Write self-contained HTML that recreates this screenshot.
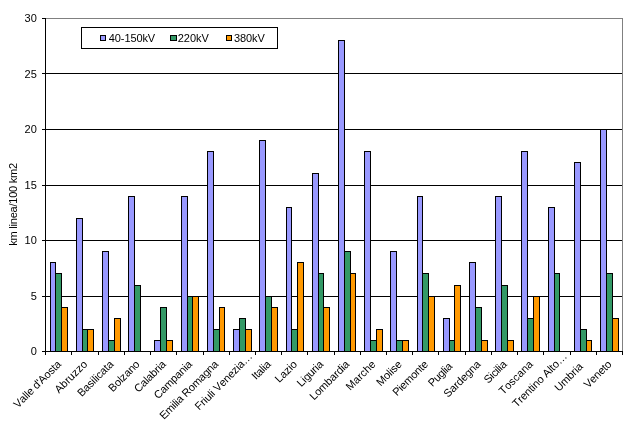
<!DOCTYPE html>
<html><head><meta charset="utf-8"><style>
html,body{margin:0;padding:0;background:#fff;}
body{width:642px;height:425px;position:relative;overflow:hidden;font-family:"Liberation Sans",sans-serif;}
text{font-kerning:none;font-feature-settings:"kern" 0;}
</style></head><body>
<svg width="642" height="425" viewBox="0 0 642 425" style="position:absolute;left:0;top:0;will-change:transform">
<g shape-rendering="crispEdges">
<path d="M45,18.5H622.5M622.5,18V351" stroke="#808080" stroke-width="1" fill="none"/>
<path d="M45,73.5H622" stroke="#000" stroke-width="1"/>
<path d="M45,129.5H622" stroke="#000" stroke-width="1"/>
<path d="M45,185.5H622" stroke="#000" stroke-width="1"/>
<path d="M45,240.5H622" stroke="#000" stroke-width="1"/>
<path d="M45,296.5H622" stroke="#000" stroke-width="1"/>
<rect x="50.5" y="262.5" width="5" height="89" fill="#9999FF" stroke="#000" stroke-width="1"/>
<rect x="55.5" y="273.5" width="6" height="78" fill="#339966" stroke="#000" stroke-width="1"/>
<rect x="61.5" y="307.5" width="6" height="44" fill="#FF9900" stroke="#000" stroke-width="1"/>
<rect x="76.5" y="218.5" width="6" height="133" fill="#9999FF" stroke="#000" stroke-width="1"/>
<rect x="82.5" y="329.5" width="5" height="22" fill="#339966" stroke="#000" stroke-width="1"/>
<rect x="87.5" y="329.5" width="6" height="22" fill="#FF9900" stroke="#000" stroke-width="1"/>
<rect x="102.5" y="251.5" width="6" height="100" fill="#9999FF" stroke="#000" stroke-width="1"/>
<rect x="108.5" y="340.5" width="6" height="11" fill="#339966" stroke="#000" stroke-width="1"/>
<rect x="114.5" y="318.5" width="6" height="33" fill="#FF9900" stroke="#000" stroke-width="1"/>
<rect x="128.5" y="196.5" width="6" height="155" fill="#9999FF" stroke="#000" stroke-width="1"/>
<rect x="134.5" y="285.5" width="6" height="66" fill="#339966" stroke="#000" stroke-width="1"/>
<rect x="154.5" y="340.5" width="6" height="11" fill="#9999FF" stroke="#000" stroke-width="1"/>
<rect x="160.5" y="307.5" width="6" height="44" fill="#339966" stroke="#000" stroke-width="1"/>
<rect x="166.5" y="340.5" width="6" height="11" fill="#FF9900" stroke="#000" stroke-width="1"/>
<rect x="181.5" y="196.5" width="6" height="155" fill="#9999FF" stroke="#000" stroke-width="1"/>
<rect x="187.5" y="296.5" width="5" height="55" fill="#339966" stroke="#000" stroke-width="1"/>
<rect x="192.5" y="296.5" width="6" height="55" fill="#FF9900" stroke="#000" stroke-width="1"/>
<rect x="207.5" y="151.5" width="6" height="200" fill="#9999FF" stroke="#000" stroke-width="1"/>
<rect x="213.5" y="329.5" width="6" height="22" fill="#339966" stroke="#000" stroke-width="1"/>
<rect x="219.5" y="307.5" width="5" height="44" fill="#FF9900" stroke="#000" stroke-width="1"/>
<rect x="233.5" y="329.5" width="6" height="22" fill="#9999FF" stroke="#000" stroke-width="1"/>
<rect x="239.5" y="318.5" width="6" height="33" fill="#339966" stroke="#000" stroke-width="1"/>
<rect x="245.5" y="329.5" width="6" height="22" fill="#FF9900" stroke="#000" stroke-width="1"/>
<rect x="259.5" y="140.5" width="6" height="211" fill="#9999FF" stroke="#000" stroke-width="1"/>
<rect x="265.5" y="296.5" width="6" height="55" fill="#339966" stroke="#000" stroke-width="1"/>
<rect x="271.5" y="307.5" width="6" height="44" fill="#FF9900" stroke="#000" stroke-width="1"/>
<rect x="286.5" y="207.5" width="5" height="144" fill="#9999FF" stroke="#000" stroke-width="1"/>
<rect x="291.5" y="329.5" width="6" height="22" fill="#339966" stroke="#000" stroke-width="1"/>
<rect x="297.5" y="262.5" width="6" height="89" fill="#FF9900" stroke="#000" stroke-width="1"/>
<rect x="312.5" y="173.5" width="6" height="178" fill="#9999FF" stroke="#000" stroke-width="1"/>
<rect x="318.5" y="273.5" width="5" height="78" fill="#339966" stroke="#000" stroke-width="1"/>
<rect x="323.5" y="307.5" width="6" height="44" fill="#FF9900" stroke="#000" stroke-width="1"/>
<rect x="338.5" y="40.5" width="6" height="311" fill="#9999FF" stroke="#000" stroke-width="1"/>
<rect x="344.5" y="251.5" width="6" height="100" fill="#339966" stroke="#000" stroke-width="1"/>
<rect x="350.5" y="273.5" width="5" height="78" fill="#FF9900" stroke="#000" stroke-width="1"/>
<rect x="364.5" y="151.5" width="6" height="200" fill="#9999FF" stroke="#000" stroke-width="1"/>
<rect x="370.5" y="340.5" width="6" height="11" fill="#339966" stroke="#000" stroke-width="1"/>
<rect x="376.5" y="329.5" width="6" height="22" fill="#FF9900" stroke="#000" stroke-width="1"/>
<rect x="390.5" y="251.5" width="6" height="100" fill="#9999FF" stroke="#000" stroke-width="1"/>
<rect x="396.5" y="340.5" width="6" height="11" fill="#339966" stroke="#000" stroke-width="1"/>
<rect x="402.5" y="340.5" width="6" height="11" fill="#FF9900" stroke="#000" stroke-width="1"/>
<rect x="417.5" y="196.5" width="5" height="155" fill="#9999FF" stroke="#000" stroke-width="1"/>
<rect x="422.5" y="273.5" width="6" height="78" fill="#339966" stroke="#000" stroke-width="1"/>
<rect x="428.5" y="296.5" width="6" height="55" fill="#FF9900" stroke="#000" stroke-width="1"/>
<rect x="443.5" y="318.5" width="6" height="33" fill="#9999FF" stroke="#000" stroke-width="1"/>
<rect x="449.5" y="340.5" width="5" height="11" fill="#339966" stroke="#000" stroke-width="1"/>
<rect x="454.5" y="285.5" width="6" height="66" fill="#FF9900" stroke="#000" stroke-width="1"/>
<rect x="469.5" y="262.5" width="6" height="89" fill="#9999FF" stroke="#000" stroke-width="1"/>
<rect x="475.5" y="307.5" width="6" height="44" fill="#339966" stroke="#000" stroke-width="1"/>
<rect x="481.5" y="340.5" width="6" height="11" fill="#FF9900" stroke="#000" stroke-width="1"/>
<rect x="495.5" y="196.5" width="6" height="155" fill="#9999FF" stroke="#000" stroke-width="1"/>
<rect x="501.5" y="285.5" width="6" height="66" fill="#339966" stroke="#000" stroke-width="1"/>
<rect x="507.5" y="340.5" width="6" height="11" fill="#FF9900" stroke="#000" stroke-width="1"/>
<rect x="521.5" y="151.5" width="6" height="200" fill="#9999FF" stroke="#000" stroke-width="1"/>
<rect x="527.5" y="318.5" width="6" height="33" fill="#339966" stroke="#000" stroke-width="1"/>
<rect x="533.5" y="296.5" width="6" height="55" fill="#FF9900" stroke="#000" stroke-width="1"/>
<rect x="548.5" y="207.5" width="6" height="144" fill="#9999FF" stroke="#000" stroke-width="1"/>
<rect x="554.5" y="273.5" width="5" height="78" fill="#339966" stroke="#000" stroke-width="1"/>
<rect x="574.5" y="162.5" width="6" height="189" fill="#9999FF" stroke="#000" stroke-width="1"/>
<rect x="580.5" y="329.5" width="6" height="22" fill="#339966" stroke="#000" stroke-width="1"/>
<rect x="586.5" y="340.5" width="5" height="11" fill="#FF9900" stroke="#000" stroke-width="1"/>
<rect x="600.5" y="129.5" width="6" height="222" fill="#9999FF" stroke="#000" stroke-width="1"/>
<rect x="606.5" y="273.5" width="6" height="78" fill="#339966" stroke="#000" stroke-width="1"/>
<rect x="612.5" y="318.5" width="6" height="33" fill="#FF9900" stroke="#000" stroke-width="1"/>
<path d="M45.5,18V355" stroke="#000" stroke-width="1"/>
<path d="M45,351.5H623" stroke="#000" stroke-width="1"/>
<path d="M42,18.5H45" stroke="#000" stroke-width="1"/>
<path d="M42,73.5H45" stroke="#000" stroke-width="1"/>
<path d="M42,129.5H45" stroke="#000" stroke-width="1"/>
<path d="M42,185.5H45" stroke="#000" stroke-width="1"/>
<path d="M42,240.5H45" stroke="#000" stroke-width="1"/>
<path d="M42,296.5H45" stroke="#000" stroke-width="1"/>
<path d="M42,351.5H45" stroke="#000" stroke-width="1"/>
<path d="M71.5,351V355" stroke="#000" stroke-width="1"/>
<path d="M98.5,351V355" stroke="#000" stroke-width="1"/>
<path d="M124.5,351V355" stroke="#000" stroke-width="1"/>
<path d="M150.5,351V355" stroke="#000" stroke-width="1"/>
<path d="M176.5,351V355" stroke="#000" stroke-width="1"/>
<path d="M203.5,351V355" stroke="#000" stroke-width="1"/>
<path d="M229.5,351V355" stroke="#000" stroke-width="1"/>
<path d="M255.5,351V355" stroke="#000" stroke-width="1"/>
<path d="M281.5,351V355" stroke="#000" stroke-width="1"/>
<path d="M307.5,351V355" stroke="#000" stroke-width="1"/>
<path d="M334.5,351V355" stroke="#000" stroke-width="1"/>
<path d="M360.5,351V355" stroke="#000" stroke-width="1"/>
<path d="M386.5,351V355" stroke="#000" stroke-width="1"/>
<path d="M412.5,351V355" stroke="#000" stroke-width="1"/>
<path d="M438.5,351V355" stroke="#000" stroke-width="1"/>
<path d="M465.5,351V355" stroke="#000" stroke-width="1"/>
<path d="M491.5,351V355" stroke="#000" stroke-width="1"/>
<path d="M517.5,351V355" stroke="#000" stroke-width="1"/>
<path d="M543.5,351V355" stroke="#000" stroke-width="1"/>
<path d="M570.5,351V355" stroke="#000" stroke-width="1"/>
<path d="M596.5,351V355" stroke="#000" stroke-width="1"/>
<path d="M622.5,351V355" stroke="#000" stroke-width="1"/>
</g>
<g font-family="Liberation Sans, sans-serif" font-size="11" fill="#000">
<text x="36.8" y="22.00" text-anchor="end">30</text>
<text x="36.8" y="77.50" text-anchor="end">25</text>
<text x="36.8" y="133.00" text-anchor="end">20</text>
<text x="36.8" y="188.50" text-anchor="end">15</text>
<text x="36.8" y="244.00" text-anchor="end">10</text>
<text x="36.8" y="299.50" text-anchor="end">5</text>
<text x="36.8" y="355.00" text-anchor="end">0</text>
<text transform="translate(61.81,364.8) rotate(-45)" x="0" text-anchor="end" textLength="62.0" lengthAdjust="spacing">Valle d&#39;Aosta</text>
<text transform="translate(88.02,364.8) rotate(-45)" x="0" text-anchor="end" textLength="41.0" lengthAdjust="spacing">Abruzzo</text>
<text transform="translate(114.24,364.8) rotate(-45)" x="0" text-anchor="end" textLength="46.0" lengthAdjust="spacing">Basilicata</text>
<text transform="translate(140.45,364.8) rotate(-45)" x="0" text-anchor="end" textLength="39.0" lengthAdjust="spacing">Bolzano</text>
<text transform="translate(166.67,364.8) rotate(-45)" x="0" text-anchor="end" textLength="40.0" lengthAdjust="spacing">Calabria</text>
<text transform="translate(192.88,364.8) rotate(-45)" x="0" text-anchor="end" textLength="49.0" lengthAdjust="spacing">Campania</text>
<text transform="translate(219.10,364.8) rotate(-45)" x="0" text-anchor="end" textLength="78.0" lengthAdjust="spacing">Emilia Romagna</text>
<text transform="translate(245.31,364.8) rotate(-45)" x="11" text-anchor="end" textLength="76.0" lengthAdjust="spacing">Friuli Venezia…</text>
<text transform="translate(271.53,364.8) rotate(-45)" x="0" text-anchor="end" textLength="22.0" lengthAdjust="spacing">Italia</text>
<text transform="translate(297.74,364.8) rotate(-45)" x="0" text-anchor="end" textLength="26.0" lengthAdjust="spacing">Lazio</text>
<text transform="translate(323.96,364.8) rotate(-45)" x="0" text-anchor="end" textLength="32.0" lengthAdjust="spacing">Liguria</text>
<text transform="translate(350.17,364.8) rotate(-45)" x="0" text-anchor="end" textLength="51.0" lengthAdjust="spacing">Lombardia</text>
<text transform="translate(376.39,364.8) rotate(-45)" x="0" text-anchor="end" textLength="37.0" lengthAdjust="spacing">Marche</text>
<text transform="translate(402.60,364.8) rotate(-45)" x="0" text-anchor="end" textLength="31.0" lengthAdjust="spacing">Molise</text>
<text transform="translate(428.82,364.8) rotate(-45)" x="0" text-anchor="end" textLength="45.0" lengthAdjust="spacing">Piemonte</text>
<text transform="translate(455.03,364.8) rotate(-45)" x="-2.9" text-anchor="end" textLength="29.0" lengthAdjust="spacing">Puglia</text>
<text transform="translate(481.25,364.8) rotate(-45)" x="0" text-anchor="end" textLength="47.0" lengthAdjust="spacing">Sardegna</text>
<text transform="translate(507.46,364.8) rotate(-45)" x="0" text-anchor="end" textLength="27.0" lengthAdjust="spacing">Sicilia</text>
<text transform="translate(533.68,364.8) rotate(-45)" x="0" text-anchor="end" textLength="43.0" lengthAdjust="spacing">Toscana</text>
<text transform="translate(559.89,364.8) rotate(-45)" x="11" text-anchor="end" textLength="72.0" lengthAdjust="spacing">Trentino Alto…</text>
<text transform="translate(586.11,364.8) rotate(-45)" x="-3.5" text-anchor="end" textLength="35.0" lengthAdjust="spacing">Umbria</text>
<text transform="translate(612.32,364.8) rotate(-45)" x="0" text-anchor="end" textLength="34.0" lengthAdjust="spacing">Veneto</text>
<text transform="translate(17,204.3) rotate(-90)" text-anchor="middle" textLength="83" lengthAdjust="spacing">km linea/100 km2</text>
</g>
<g shape-rendering="crispEdges">
<rect x="81.5" y="27.5" width="196" height="21" fill="#fff" stroke="#000" stroke-width="1"/>
<rect x="100.5" y="35.5" width="5" height="5" fill="#9999FF" stroke="#000" stroke-width="1"/>
<rect x="170.5" y="35.5" width="6" height="5" fill="#339966" stroke="#000" stroke-width="1"/>
<rect x="226.5" y="35.5" width="5" height="5" fill="#FF9900" stroke="#000" stroke-width="1"/>
</g>
<g font-family="Liberation Sans, sans-serif" font-size="11" fill="#000">
<text x="108.8" y="42" textLength="46.4" lengthAdjust="spacing">40-150kV</text>
<text x="177.8" y="42" textLength="31" lengthAdjust="spacing">220kV</text>
<text x="233.9" y="42" textLength="31" lengthAdjust="spacing">380kV</text>
</g>
</svg>
</body></html>
